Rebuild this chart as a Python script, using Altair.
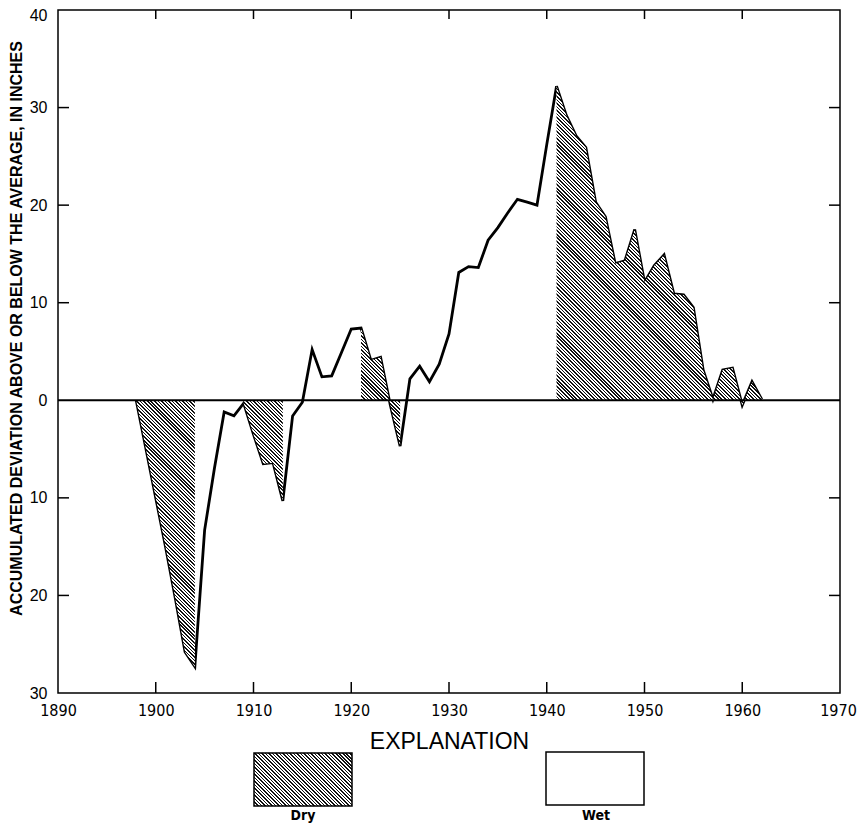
import math
import altair as alt
import pandas as pd

# ---------------- data ----------------
years = list(range(1898, 1963))
deviation = [
    0.0, -5.0, -10.0, -15.0, -20.3, -25.8, -27.3, -13.3, -7.0, -1.2,   # 1898-1907
    -1.6, -0.3, -3.5, -6.5, -6.4, -10.3, -1.6, -0.2, 5.2, 2.4,         # 1908-1917
    2.5, 4.9, 7.3, 7.4, 4.1, 4.4, -0.5, -4.7, 2.2, 3.5,                # 1918-1927
    1.9, 3.7, 6.8, 13.1, 13.7, 13.6, 16.4, 17.7, 19.2, 20.6,           # 1928-1937
    20.3, 20.0, 26.2, 32.2, 29.2, 27.1, 25.9, 20.3, 18.8, 14.0,        # 1938-1947
    14.3, 17.5, 12.1, 13.8, 14.9, 10.9, 10.8, 9.5, 3.1, 0.1,           # 1948-1957
    3.1, 3.3, -0.5, 1.9, 0.1,                                          # 1958-1962
]
dry_periods = [(1898, 1904), (1909, 1913), (1921, 1925), (1941, 1962)]

x_tick_labels = [1890, 1900, 1910, 1920, 1930, 1940, 1950, 1960, 1970]
y_tick_labels = [-30, -20, -10, 0, 10, 20, 30, 40]
inner_x_ticks = [1900, 1910, 1920, 1930, 1940, 1950, 1960]
inner_y_ticks = [-20, -10, 10, 20, 30]
legend_items = ["Dry", "Wet"]

y_title = "ACCUMULATED DEVIATION ABOVE OR BELOW THE AVERAGE, IN INCHES"
x_title = "EXPLANATION"

# ---------------- layout ----------------
W, H = 782, 683
XD = [1890, 1970]
YD = [-30, 40]
px_x = W / (XD[1] - XD[0])
px_y = H / (YD[1] - YD[0])

SANS = "Liberation Sans, Arial, Helvetica, sans-serif"
NARROW = "Liberation Sans Narrow, DejaVu Sans Condensed, Liberation Sans, sans-serif"


def hatch(wpx, hpx, period=2.5, dark=0.45):
    """Linear gradient that renders as 45-degree '\\\\' hatching in a wpx x hpx box."""
    k = (wpx + hpx) / (wpx ** 2 + hpx ** 2)
    span = (wpx + hpx) / math.sqrt(2)
    n = max(1, int(round(span / period)))
    stops = []
    for i in range(n):
        a, b, c = i / n, (i + dark) / n, (i + 1) / n
        stops += [
            {"offset": a, "color": "#111111"},
            {"offset": b, "color": "#111111"},
            {"offset": b, "color": "#ffffff"},
            {"offset": c, "color": "#ffffff"},
        ]
    return {"gradient": "linear", "x1": 0, "y1": 1,
            "x2": k * wpx, "y2": 1 - k * hpx, "stops": stops}


# ---------------- frames ----------------
series = pd.DataFrame({"year": years, "value": deviation})

rows = []
for (a, b) in dry_periods:
    for yv, vv in zip(years, deviation):
        if a <= yv <= b:
            rows.append({"year": yv, "value": vv})
    rows.append({"year": b + 0.5, "value": None})
dry = pd.DataFrame(rows[:-1])

dv = dry["value"].dropna()
bw = (max(b for _, b in dry_periods) - min(a for a, _ in dry_periods)) * px_x
bh = (max(dv.max(), 0) - min(dv.min(), 0)) * px_y
area_fill = hatch(bw, bh)

x_scale = alt.Scale(domain=XD, nice=False, zero=False)
y_scale = alt.Scale(domain=YD, nice=False, zero=False)

x_axis = alt.Axis(
    values=x_tick_labels, format="d", labelFont=NARROW, labelFontSize=16,
    labelPadding=9, labelFlush=False, labelOverlap=False, labelColor="black",
    labelOffset={"condition": {"test": "datum.value == 1970", "value": -2}, "value": 0},
    title=x_title, titleFont=SANS, titleFontSize=23, titleFontWeight="normal",
    titlePadding=12, titleColor="black",
    grid=False, domain=False, ticks=False, tickSize=0,
)
y_axis = alt.Axis(
    values=y_tick_labels, labelExpr="abs(datum.value)", labelFont=SANS,
    labelFontSize=16, labelPadding=11, labelFlush=False, labelOverlap=False,
    labelColor="black",
    labelOffset={"condition": {"test": "datum.value == 40", "value": 5}, "value": 0},
    title=y_title, titleFont=SANS, titleFontSize=16, titleFontWeight="bold",
    titleAngle=270, titleX=-42, titleY=318, titleAlign="center",
    titleBaseline="middle", titleColor="black",
    grid=False, domain=False, ticks=False, tickSize=0,
)

line = alt.Chart(series).mark_line(
    color="black", strokeWidth=2.8, strokeJoin="miter"
).encode(
    x=alt.X("year:Q", scale=x_scale, axis=x_axis),
    y=alt.Y("value:Q", scale=y_scale, axis=y_axis),
)

area = alt.Chart(dry).mark_area(
    fill=area_fill, opacity=1, strokeWidth=0, invalid="break-paths-show-domains"
).encode(
    x=alt.X("year:Q"),
    y=alt.Y("value:Q"),
    y2=alt.datum(0),
)

zero = alt.Chart(pd.DataFrame({"value": [0]})).mark_rule(
    color="black", strokeWidth=2
).encode(y=alt.Y("value:Q"))

yt = pd.DataFrame({"value": inner_y_ticks})
xt = pd.DataFrame({"year": inner_x_ticks})
tick_style = dict(color="black", strokeWidth=1.5)
left_ticks = alt.Chart(yt).mark_rule(**tick_style).encode(
    y=alt.Y("value:Q"), x=alt.value(0), x2=alt.value(11))
right_ticks = alt.Chart(yt).mark_rule(**tick_style).encode(
    y=alt.Y("value:Q"), x=alt.value(W - 11), x2=alt.value(W))
bottom_ticks = alt.Chart(xt).mark_rule(**tick_style).encode(
    x=alt.X("year:Q"), y=alt.value(H), y2=alt.value(H - 11))
top_ticks = alt.Chart(xt).mark_rule(**tick_style).encode(
    x=alt.X("year:Q"), y=alt.value(0), y2=alt.value(9))

# ---------------- explanation boxes ----------------
dry_df = pd.DataFrame({"label": [legend_items[0]]})
wet_df = pd.DataFrame({"label": [legend_items[1]]})
dry_box = alt.Chart(dry_df).mark_rect(
    fill=hatch(98, 53), stroke="black", strokeWidth=1.5, opacity=1
).encode(x=alt.value(196), x2=alt.value(294), y=alt.value(743), y2=alt.value(796))
wet_box = alt.Chart(wet_df).mark_rect(
    fill="white", stroke="black", strokeWidth=1.5
).encode(x=alt.value(488), x2=alt.value(586), y=alt.value(742), y2=alt.value(795))
text_style = dict(font=NARROW, fontSize=14, fontWeight="bold", color="black",
                  align="center", baseline="alphabetic")
dry_txt = alt.Chart(dry_df).mark_text(**text_style).encode(
    text="label:N", x=alt.value(245), y=alt.value(810))
wet_txt = alt.Chart(wet_df).mark_text(**text_style).encode(
    text="label:N", x=alt.value(538), y=alt.value(810))

chart = alt.layer(
    line, area, zero, left_ticks, right_ticks, bottom_ticks, top_ticks,
    dry_box, wet_box, dry_txt, wet_txt,
).properties(
    width=W, height=H, background="white",
    padding={"left": 50, "top": 2, "right": 17, "bottom": 133},
    autosize=alt.AutoSizeParams(type="none"),
).configure_view(
    stroke="black", strokeWidth=1.5
)

chart.save("out.html", embed_options={"renderer": "svg", "actions": False})
